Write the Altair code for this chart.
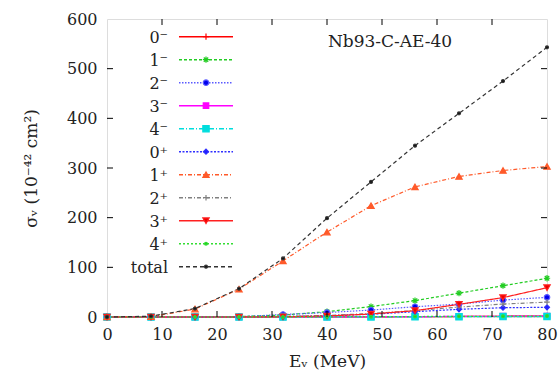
import altair as alt
import pandas as pd

# ---- data -------------------------------------------------------------
energies = [0, 8, 16, 24, 32, 40, 48, 56, 64, 72, 80]
series = ["0⁻", "1⁻", "2⁻", "3⁻", "4⁻", "0⁺", "1⁺", "2⁺", "3⁺", "4⁺", "total"]

s_0m = [0, 0, 0, 0, 0, 0, 0.3, 0.6, 1.0, 1.5, 2.0]
s_1m = [0, 0, 0, 1, 4, 10.7, 21, 33, 48, 63, 78]
s_2m = [0, 0, 0, 0.5, 5, 9, 14, 20.7, 26, 34, 39.6]
s_3m = [0, 0, 0, 0, 0, 0.2, 0.5, 0.8, 1.2, 1.6, 2.0]
s_4m = [0, 0, 0, 0, 0, 0.1, 0.2, 0.4, 0.6, 0.8, 1.0]
s_0p = [0, 0, 0, 0, 1, 2.5, 5.5, 10.7, 15.5, 18.7, 19.5]
s_1p = [0, 0.5, 16, 56, 113, 171, 224, 262, 283, 295, 303]
s_2p = [0, 0, 0, 0, 1, 3, 7, 13, 20, 26, 30]
s_3p = [0, 0, 0, 0, 0.5, 2, 6, 12.7, 25.5, 39, 59]
s_4p = [0, 0, 0, 0, 0.2, 0.4, 0.7, 1.0, 1.3, 1.6, 2.0]
s_tot = [0, 1.5, 17, 57, 118, 199, 272, 345, 410, 475, 543]

values = [s_0m, s_1m, s_2m, s_3m, s_4m, s_0p, s_1p, s_2p, s_3p, s_4p, s_tot]

x_ticks = [10, 20, 30, 40, 50, 60, 70]
y_ticks = [100, 200, 300, 400, 500]

# ---- styles -----------------------------------------------------------
line_colors = ["#ff0000", "#22cc22", "#5a5aff", "#ff00ff", "#00dddd", "#3030ff",
               "#ff5a2a", "#808080", "#ff2020", "#33dd33", "#333333"]
mark_colors = ["#ff0000", "#22cc22", "#0000ee", "#ff00ff", "#00dddd", "#2020ff",
               "#ff5a2a", "#808080", "#ee0000", "#22cc22", "#111111"]
dashes = [[1, 0], [3, 2], [1.5, 1.5], [1, 0], [5, 2, 1, 2], [2, 1.5],
          [4, 2, 1, 2], [4, 2, 1, 2], [1, 0], [2, 2], [4, 3]]
plus = "M-1,0L1,0M0,-1L0,1"
star = "M-1,0L1,0M0,-1L0,1M-0.7,-0.7L0.7,0.7M-0.7,0.7L0.7,-0.7"
shapes = [plus, star, "circle", "square", "square", "diamond",
          "triangle-up", plus, "triangle-down", "circle", "circle"]
sizes = [40, 40, 30, 30, 40, 25, 40, 30, 40, 8, 9]

FONT = "DejaVu Serif"
TXT = "#222222"
W, H = 440, 298

rows = []
for name, vals in zip(series, values):
    for e, v in zip(energies, vals):
        rows.append({"series": name, "E": e, "sigma": v})
df = pd.DataFrame(rows)
df_leg = pd.DataFrame({"series": series})

xs = alt.Scale(domain=[0, 80], nice=False)
ys = alt.Scale(domain=[0, 600], nice=False)
lc = alt.Scale(domain=series, range=line_colors)
mc = alt.Scale(domain=series, range=mark_colors)
ds = alt.Scale(domain=series, range=dashes)
ss = alt.Scale(domain=series, range=shapes)
zs = alt.Scale(type="ordinal", domain=series, range=sizes)
leg_y = alt.Scale(type="point", domain=series, range=[17.7, 247.7], padding=0)

x_enc = alt.X("E:Q", scale=xs, axis=alt.Axis(
    values=[0, 10, 20, 30, 40, 50, 60, 70, 80], ticks=False, grid=False, domain=False,
    labelFlush=False,
    labelFont=FONT, labelFontSize=16, labelColor=TXT, labelPadding=9,
    title="Eᵥ (MeV)", titleFont=FONT, titleFontSize=17, titleFontWeight="normal",
    titleColor=TXT, titlePadding=11))
y_enc = alt.Y("sigma:Q", scale=ys, axis=alt.Axis(
    values=[0, 100, 200, 300, 400, 500, 600], ticks=False, grid=False, domain=False,
    labelFlush=False,
    labelFont=FONT, labelFontSize=16, labelColor=TXT, labelPadding=10,
    title="σᵥ (10⁻⁴² cm²)", titleFont=FONT, titleFontSize=17, titleFontWeight="normal",
    titleColor=TXT, titlePadding=26))

lines = alt.Chart(df).mark_line(strokeWidth=1.2).encode(
    x=x_enc, y=y_enc,
    stroke=alt.Stroke("series:N", scale=lc, legend=None),
    strokeDash=alt.StrokeDash("series:N", scale=ds, legend=None),
    detail="series:N",
)
points = alt.Chart(df).mark_point(filled=False, strokeWidth=1.2, opacity=1).encode(
    x=alt.X("E:Q", scale=xs),
    y=alt.Y("sigma:Q", scale=ys, axis=None),
    stroke=alt.Stroke("series:N", scale=mc, legend=None),
    fill=alt.Fill("series:N", scale=mc, legend=None),
    shape=alt.Shape("series:N", scale=ss, legend=None),
    size=alt.Size("series:N", scale=zs, legend=None),
)

# inner ticks (gnuplot style, mirrored)
tx = pd.DataFrame({"t": x_ticks})
ty = pd.DataFrame({"t": y_ticks})
tick_b = alt.Chart(tx).mark_rule(color="#000", strokeWidth=1).encode(
    x=alt.X("t:Q", scale=xs), y=alt.value(H), y2=alt.value(H - 6))
tick_t = alt.Chart(tx).mark_rule(color="#000", strokeWidth=1).encode(
    x=alt.X("t:Q", scale=xs), y=alt.value(0), y2=alt.value(6))
tick_l = alt.Chart(ty).mark_rule(color="#000", strokeWidth=1).encode(
    y=alt.Y("t:Q", scale=ys, axis=None), x=alt.value(0), x2=alt.value(6))
tick_r = alt.Chart(ty).mark_rule(color="#000", strokeWidth=1).encode(
    y=alt.Y("t:Q", scale=ys, axis=None), x=alt.value(W), x2=alt.value(W - 6))

# legend (labels left, symbols right, as in gnuplot)
leg_text = alt.Chart(df_leg).mark_text(
    align="right", baseline="middle", font=FONT, fontSize=16, color=TXT, dy=1).encode(
    x=alt.value(61), y=alt.Y("series:N", scale=leg_y, axis=None), text="series:N")
leg_line = alt.Chart(df_leg).mark_rule(strokeWidth=1.5).encode(
    x=alt.value(72), x2=alt.value(126),
    y=alt.Y("series:N", scale=leg_y, axis=None),
    stroke=alt.Stroke("series:N", scale=lc, legend=None),
    strokeDash=alt.StrokeDash("series:N", scale=ds, legend=None))
leg_pt = alt.Chart(df_leg).mark_point(filled=False, strokeWidth=1.2, opacity=1).encode(
    x=alt.value(99),
    y=alt.Y("series:N", scale=leg_y, axis=None),
    stroke=alt.Stroke("series:N", scale=mc, legend=None),
    fill=alt.Fill("series:N", scale=mc, legend=None),
    shape=alt.Shape("series:N", scale=ss, legend=None),
    size=alt.Size("series:N", scale=zs, legend=None))

title = alt.Chart(pd.DataFrame({"t": ["Nb93-C-AE-40"]})).mark_text(
    align="center", baseline="alphabetic", font=FONT, fontSize=17, color=TXT).encode(
    x=alt.value(283), y=alt.value(28), text="t:N")

chart = alt.layer(
    lines, points, tick_b, tick_t, tick_l, tick_r, leg_line, leg_pt, leg_text, title
).resolve_scale(y="independent").properties(
    width=W, height=H,
    autosize=alt.AutoSizeParams(type="none"),
    padding={"left": 107, "top": 19, "right": 11, "bottom": 60},
).configure_view(stroke="#000000", strokeWidth=1.5).configure(
    background="white", font=FONT)

chart.save("out.html", embed_options={"renderer": "svg", "actions": False})
